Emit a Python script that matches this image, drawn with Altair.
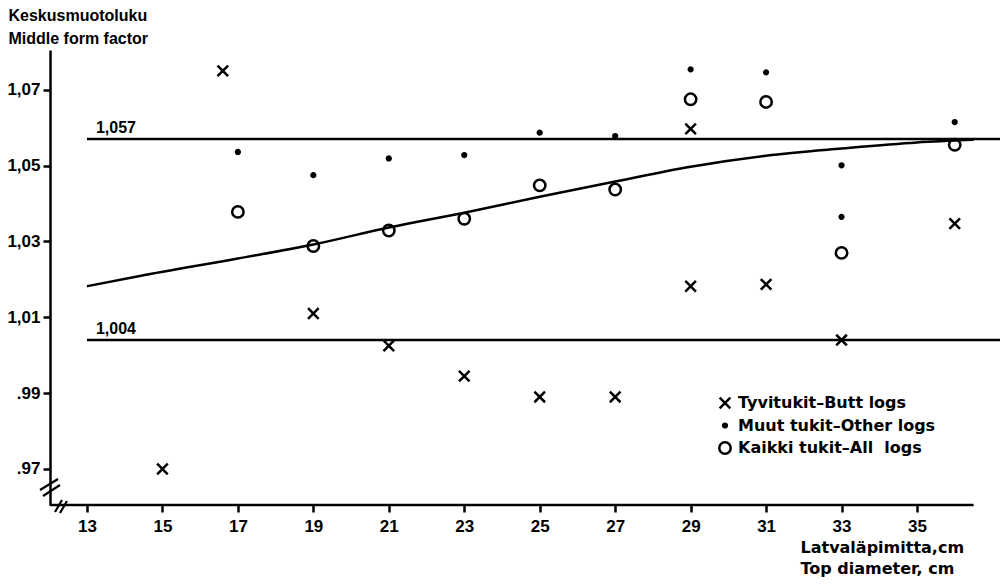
import altair as alt
import pandas as pd

# ---- data ----
butt_x = [15, 16.6, 19, 21, 23, 25, 27, 29, 29, 31, 33, 36]
butt_y = [0.970, 1.075, 1.011, 1.0025, 0.9945, 0.989, 0.989, 1.0597, 1.0182, 1.0187, 1.004, 1.0347]

other_x = [17, 19, 21, 23, 25, 27, 29, 31, 33, 33, 36]
other_y = [1.0536, 1.0475, 1.0519, 1.0528, 1.0587, 1.0578, 1.0754, 1.0746, 1.0501, 1.0365, 1.0615]

all_x = [17, 19, 21, 23, 25, 27, 29, 31, 33, 36]
all_y = [1.0378, 1.0288, 1.0329, 1.036, 1.0448, 1.0437, 1.0675, 1.0668, 1.027, 1.0555]

curve_x = [13, 14.4, 17, 19, 21, 23, 25, 27, 29, 31, 33, 35, 36.5]
curve_y = [1.0182, 1.0209, 1.0255, 1.0292, 1.0337, 1.0376, 1.0418, 1.0458, 1.0497, 1.0526, 1.0545, 1.0561, 1.0568]

ref_values = [1.057, 1.004]
ref_labels = ["1,057", "1,004"]
ref_start, ref_end = 13, 37.2

series_names = ["Tyvitukit\u2013Butt logs", "Muut tukit\u2013Other logs", "Kaikki tukit\u2013All\u00a0\u00a0logs"]
x_ticks = [13, 15, 17, 19, 21, 23, 25, 27, 29, 31, 33, 35]
y_ticks = [0.97, 0.99, 1.01, 1.03, 1.05, 1.07]
x_domain = [12.02, 37.2]
y_domain = [0.9605, 1.0805]
x_axis_end = 36.5

FONT = "Liberation Sans"
FONT2 = "DejaVu Sans"

pts = pd.DataFrame(
    [{"x": a, "y": b, "series": series_names[0]} for a, b in zip(butt_x, butt_y)]
    + [{"x": a, "y": b, "series": series_names[1]} for a, b in zip(other_x, other_y)]
    + [{"x": a, "y": b, "series": series_names[2]} for a, b in zip(all_x, all_y)]
)
curve = pd.DataFrame({"x": curve_x, "y": curve_y})
refs = pd.DataFrame({"y": ref_values, "label": ref_labels, "x": ref_start, "x2": ref_end})
xaxis_line = pd.DataFrame({"x": [x_domain[0]], "x2": [x_axis_end], "y": [y_domain[0]]})

xs = alt.Scale(domain=x_domain, nice=False, zero=False)
ys = alt.Scale(domain=y_domain, nice=False, zero=False)

base_x = alt.X(
    "x:Q", scale=xs,
    axis=alt.Axis(
        values=x_ticks, domain=False, grid=False, tickSize=7, labelPadding=6,
        title=["Latval\u00e4pimitta,cm", "Top diameter, cm"],
        titleX=750, titleY=47, titleAlign="left", titleBaseline="alphabetic",
        titleLineHeight=21, titleFont=FONT2, titleFontSize=16,
    ),
)
base_y = alt.Y(
    "y:Q", scale=ys,
    axis=alt.Axis(
        values=y_ticks, grid=False, tickSize=7, labelPadding=3,
        labelExpr="datum.value >= 1 ? replace(format(datum.value, '.2f'), '.', ',') : replace(format(datum.value, '.2f'), '0.', '.')",
        title=["Keskusmuotoluku", "Middle form factor"],
        titleAngle=0, titleAlign="left", titleBaseline="alphabetic",
        titleX=-42, titleY=-30, titleLineHeight=23,
    ),
)

leg = alt.Legend(title=None, labelLimit=400, symbolStrokeColor="black", symbolStrokeWidth=2.5)

points = alt.Chart(pts).mark_point(strokeWidth=2.5, opacity=1).encode(
    x=base_x,
    y=base_y,
    shape=alt.Shape("series:N", sort=series_names,
                    scale=alt.Scale(type="ordinal", domain=series_names,
                                    range=["M-0.7,-0.7L0.7,0.7M-0.7,0.7L0.7,-0.7", "circle", "circle"]),
                    legend=leg),
    fill=alt.Fill("series:N", sort=series_names,
                  scale=alt.Scale(type="ordinal", domain=series_names, range=["transparent", "black", "transparent"]),
                  legend=leg),
    stroke=alt.Stroke("series:N", sort=series_names,
                      scale=alt.Scale(type="ordinal", domain=series_names, range=["black", "black", "black"]),
                      legend=leg),
    size=alt.Size("series:N", sort=series_names,
                  scale=alt.Scale(type="ordinal", domain=series_names, range=[230, 14, 130]),
                  legend=leg),
)

line = alt.Chart(curve).mark_line(color="black", strokeWidth=2.5, interpolate="monotone").encode(
    x="x:Q", y="y:Q"
)

rules = alt.Chart(refs).mark_rule(color="black", strokeWidth=2.5).encode(
    x="x:Q", x2="x2:Q", y="y:Q"
)
ref_text = alt.Chart(refs).mark_text(
    align="left", baseline="bottom", dx=9, dy=-3, font=FONT, fontSize=16, fontWeight="bold", color="black"
).encode(x="x:Q", y="y:Q", text="label:N")

xline = alt.Chart(xaxis_line).mark_rule(color="black", strokeWidth=2.5).encode(
    x="x:Q", x2="x2:Q", y="y:Q"
)

# axis-break decoration (pixel positions, not data)
dummy = pd.DataFrame({"k": [0]})
def brk(x1, y1, x2, y2):
    return alt.Chart(dummy).mark_rule(color="black", strokeWidth=2.2).encode(
        x=alt.value(x1), y=alt.value(y1), x2=alt.value(x2), y2=alt.value(y2)
    )
breaks = [brk(-10, 440, 8, 429), brk(-7, 446, 10, 435), brk(5, 462, 12, 450), brk(10, 463, 17, 451)]

chart = (
    alt.layer(rules, ref_text, line, xline, *breaks, points)
    .resolve_scale(x="shared", y="shared")
    .properties(
        width=950, height=455,
        autosize=alt.AutoSizeParams(type="none"),
        padding={"left": 50, "top": 50, "right": 1, "bottom": 79},
        background="white",
    )
    .configure_view(stroke=None)
    .configure_axis(
        labelFont=FONT, labelFontSize=17, labelFontWeight="bold", labelColor="black",
        titleFont=FONT, titleFontSize=16, titleFontWeight="bold", titleColor="black",
        tickColor="black", tickWidth=2.5, domainColor="black", domainWidth=2.5,
    )
    .configure_legend(
        orient="none", legendX=666, legendY=344, padding=0,
        labelFont=FONT2, labelFontSize=16, labelFontWeight="bold", labelColor="black",
        rowPadding=3.5, labelOffset=4,
    )
)

chart.save("out.html", embed_options={"renderer": "svg", "actions": False})
